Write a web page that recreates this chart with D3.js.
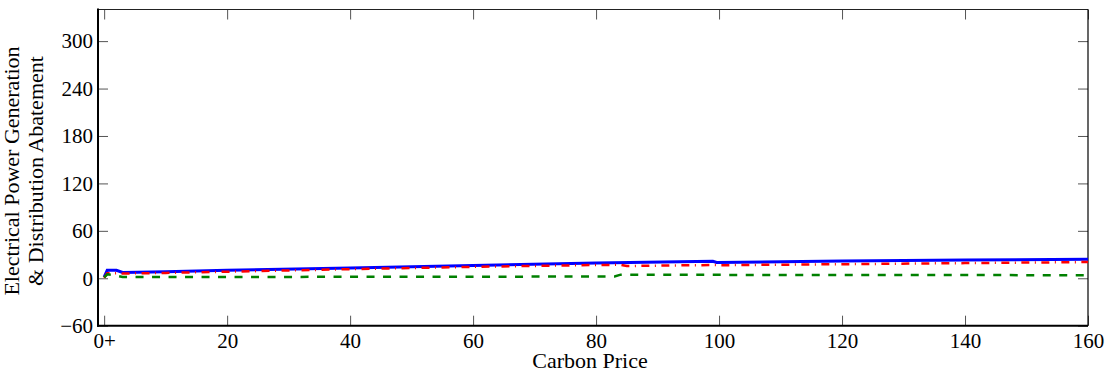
<!DOCTYPE html>
<html lang="en">
<head>
  <meta charset="UTF-8" />
  <title>Carbon Price Abatement</title>
  <script src="https://d3js.org/d3.v7.min.js"></script>
  <style>
    body { margin: 0; background: #fff; }
    svg { display: block; font-family: 'Liberation Serif', 'Times New Roman', serif; }
    .tick line { stroke: #555; stroke-width: 1; }
    .tick text { fill: #000; font-size: 21px; }
  </style>
</head>
<body>
  <svg id="chart" width="1114" height="375"></svg>

  <script>
    // tick values
    const xTicks = [0, 20, 40, 60, 80, 100, 120, 140, 160];
    const yTicks = [-60, 0, 60, 120, 180, 240, 300];

    // series (x = carbon price, y = abatement)
    const blueX  = [0, 0.5, 2, 3, 10, 20, 40, 60, 80, 99, 99.6, 120, 140, 160];
    const blueY  = [1.5, 10, 10, 7.3, 8.3, 10, 13, 16.2, 19.3, 21.5, 20, 21.8, 23, 24];
    const redX   = [0, 0.5, 2, 3, 10, 20, 40, 60, 80, 84, 85, 99, 100, 120, 140, 160];
    const redY   = [0.5, 6.5, 6.5, 6, 6.8, 8.3, 11.5, 14.5, 16.8, 17, 15.5, 16.8, 16.5, 17.8, 19.2, 20.5];
    const greenX = [0, 0.5, 1.5, 3, 20, 40, 60, 83, 84, 100, 120, 140, 160];
    const greenY = [1, 5, 4.2, 1.5, 1.7, 1.8, 2, 2.2, 4.6, 4.3, 4.2, 4.1, 3.8];

    const pL = 98, pR = 1088, pT = 9.5, pB = 325.7;
    const svg = d3.select("#chart");

    const x = d3.scaleLinear().domain([-1, 160]).range([pL, pR]);
    const y = d3.scaleLinear().domain([-60, 340]).range([pB, pT]);

    const fmtX = d => d === 0 ? "0+" : d;
    const fmtY = d => d < 0 ? "\u2212" + Math.abs(d) : d;

    // axes with inward ticks
    svg.append("g").attr("transform", `translate(0,${pB})`)
      .call(d3.axisBottom(x).tickValues(xTicks).tickSize(-10).tickPadding(7).tickFormat(fmtX))
      .call(g => g.select(".domain").remove());
    svg.append("g").attr("transform", `translate(0,${pT})`)
      .call(d3.axisTop(x).tickValues(xTicks).tickSize(-10).tickFormat(""))
      .call(g => g.select(".domain").remove());
    svg.append("g").attr("transform", `translate(${pL},0)`)
      .call(d3.axisLeft(y).tickValues(yTicks).tickSize(-10).tickPadding(5).tickFormat(fmtY))
      .call(g => g.select(".domain").remove());
    svg.append("g").attr("transform", `translate(${pR},0)`)
      .call(d3.axisRight(y).tickValues(yTicks).tickSize(-10).tickFormat(""))
      .call(g => g.select(".domain").remove());

    svg.selectAll("text").attr("font-family", "'Liberation Serif', serif");

    // frame
    svg.append("line").attr("x1", pL).attr("x2", pR).attr("y1", pT).attr("y2", pT)
      .attr("stroke", "#222").attr("stroke-width", 1.2);
    svg.append("line").attr("x1", pR).attr("x2", pR).attr("y1", pT).attr("y2", pB)
      .attr("stroke", "#000").attr("stroke-width", 1.2);
    svg.append("line").attr("x1", pL).attr("x2", pL).attr("y1", pT - 1).attr("y2", pB + 1)
      .attr("stroke", "#000").attr("stroke-width", 2);
    svg.append("line").attr("x1", pL - 1).attr("x2", pR).attr("y1", pB).attr("y2", pB)
      .attr("stroke", "#000").attr("stroke-width", 2);

    const line = d3.line().x(d => x(d[0])).y(d => y(d[1]));
    const plot = svg.append("g");

    plot.append("path").datum(d3.zip(blueX, blueY)).attr("d", line)
      .attr("fill", "none").attr("stroke", "#0000ff").attr("stroke-width", 3);
    plot.append("path").datum(d3.zip(redX, redY)).attr("d", line)
      .attr("fill", "none").attr("stroke", "#ff0000").attr("stroke-width", 2.5)
      .attr("stroke-dasharray", "8,5.5,1,5.5");
    plot.append("path").datum(d3.zip(greenX, greenY)).attr("d", line)
      .attr("fill", "none").attr("stroke", "#008000").attr("stroke-width", 2.5)
      .attr("stroke-dasharray", "8,8.5");

    // axis labels
    svg.append("text").attr("x", 590).attr("y", 368)
      .attr("text-anchor", "middle").attr("font-size", 22).text("Carbon Price");

    const yl = svg.append("text").attr("transform", "translate(19,171) rotate(-90)")
      .attr("text-anchor", "middle").attr("font-size", 22);
    yl.append("tspan").attr("x", 0).attr("y", 0).text("Electrical Power Generation");
    yl.append("tspan").attr("x", 0).attr("y", 24).text("& Distribution Abatement");
  </script>
</body>
</html>
